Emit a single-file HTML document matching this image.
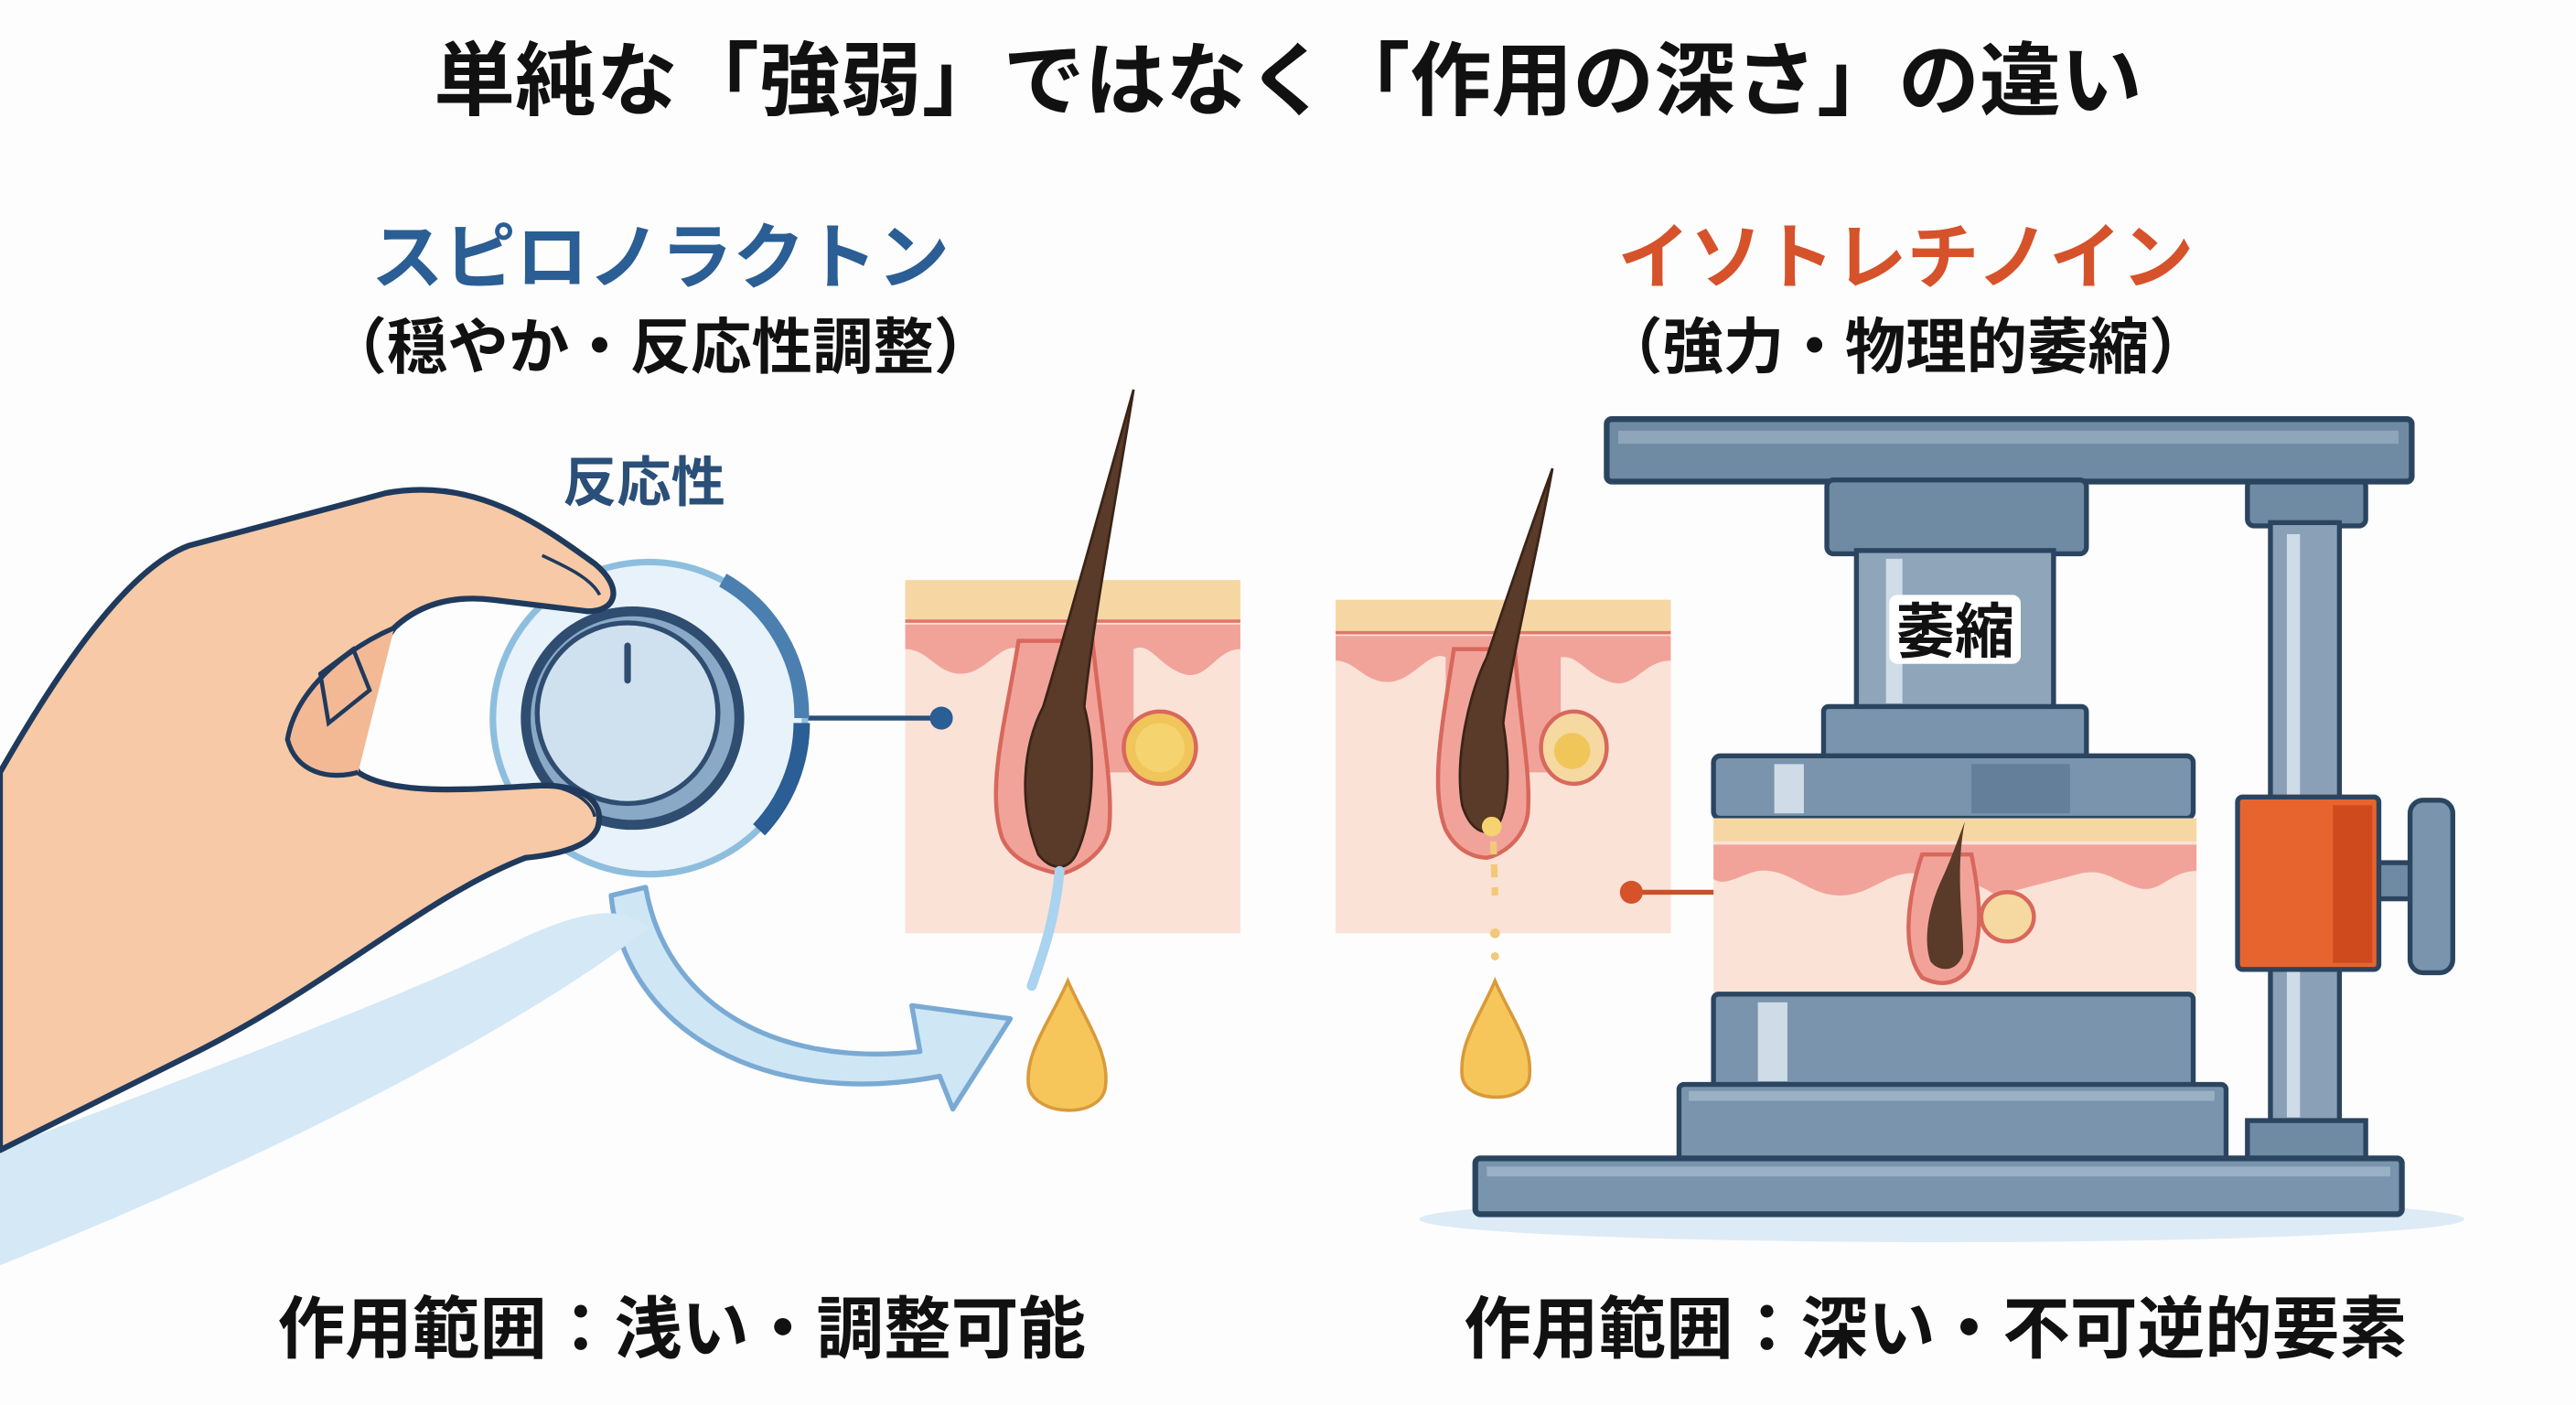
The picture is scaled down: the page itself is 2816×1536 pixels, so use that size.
<!DOCTYPE html>
<html><head><meta charset="utf-8">
<style>
html,body{margin:0;padding:0;background:#fff;}
svg{display:block;}
text{font-family:"Liberation Sans","Noto Sans CJK JP",sans-serif;font-weight:bold;}
</style></head>
<body>
<svg width="2816" height="1536" viewBox="0 0 1568 855" xmlns="http://www.w3.org/2000/svg">
<rect width="1568" height="855" fill="#fdfdfd"/>
<!-- Titles -->
<text x="784" y="66" font-size="49" text-anchor="middle" fill="#111" textLength="1040" lengthAdjust="spacingAndGlyphs">単純な「強弱」ではなく「作用の深さ」の違い</text>
<text x="402" y="172" font-size="44" text-anchor="middle" fill="#2a5e94">スピロノラクトン</text>
<text x="402" y="224" font-size="37" text-anchor="middle" fill="#111">（穏やか・反応性調整）</text>
<text x="1160" y="172" font-size="44" text-anchor="middle" fill="#d6522a">イソトレチノイン</text>
<text x="1160" y="224" font-size="37" text-anchor="middle" fill="#111">（強力・物理的萎縮）</text>
<text x="392" y="305" font-size="33" text-anchor="middle" fill="#2a4f78">反応性</text>
<text x="415" y="823" font-size="41" text-anchor="middle" fill="#111">作用範囲：浅い・調整可能</text>
<text x="1178" y="823" font-size="41" text-anchor="middle" fill="#111">作用範囲：深い・不可逆的要素</text>

<!-- Left skin panel -->
<rect x="551" y="353" width="204" height="215" fill="#fbe2d6"/>
<path d="M551,353 H755 V378 H551Z" fill="#f6d7a4"/>
<path d="M551,380 H755 V395 C740,395 735,415 720,410 C705,405 700,390 690,395 L690,470 L620,470 L620,395 C610,390 600,410 585,410 C570,410 565,395 551,395Z" fill="#f1a39a"/>
<line x1="551" y1="378" x2="755" y2="378" stroke="#e0786a" stroke-width="2"/>
<path d="M620,390 C612,440 600,480 610,510 C618,528 640,530 645,532 C655,530 672,520 675,505 C678,480 670,440 665,390Z" fill="#f1a39a" stroke="#d8685c" stroke-width="2.5"/>
<ellipse cx="706" cy="455" rx="22" ry="22" fill="#f0c55a" stroke="#d8685c" stroke-width="2.5"/>
<circle cx="706" cy="455" r="15" fill="#f5d36e"/>
<path d="M690,237 C680,300 665,380 660,430 C668,460 665,500 655,520 C650,530 640,530 632,520 C620,490 622,455 635,430 C650,380 675,290 690,237Z" fill="#5a3a28" stroke="#3a2418" stroke-width="1.5"/>
<path d="M645,530 C642,560 635,580 628,600" stroke="#a9d3ef" stroke-width="6" fill="none" stroke-linecap="round"/>
<path d="M650,597 C640,620 624,640 626,660 C628,680 672,682 673,660 C675,640 660,620 650,597Z" fill="#f6c65a" stroke="#d99a3a" stroke-width="2"/>

<!-- connector left -->
<line x1="488" y1="437" x2="573" y2="437" stroke="#2a4f78" stroke-width="3"/>
<circle cx="573" cy="437" r="7" fill="#2a5e94"/>

<!-- curved arrow -->
<path d="M393,540 C405,610 470,650 560,640 L555,612 L615,620 L580,675 L572,655 C470,675 380,630 372,545Z" fill="#cfe6f5" stroke="#7aaad4" stroke-width="3" stroke-linejoin="round"/>

<!-- dial -->
<circle cx="395" cy="437" r="95" fill="#e7f2fa" stroke="#8ebede" stroke-width="4"/>
<path d="M440,353 A95,95 0 0 1 488,437" stroke="#4a7fb0" stroke-width="9" fill="none"/>
<path d="M488,440 A95,95 0 0 1 462,505" stroke="#2a5e94" stroke-width="10" fill="none"/>
<circle cx="385" cy="437" r="68" fill="#2e4d70"/>
<circle cx="385" cy="437" r="62" fill="#8aa9c6"/>
<circle cx="382" cy="434" r="55" fill="#cfe1ef" stroke="#2e4d70" stroke-width="3"/>
<line x1="382" y1="393" x2="382" y2="414" stroke="#2e4d70" stroke-width="4" stroke-linecap="round"/>

<!-- blue cuff shadow -->
<path d="M0,700 C100,660 240,610 320,570 C360,552 380,552 395,565 C330,615 200,690 0,770Z" fill="#d4e8f6"/>
<!-- hand -->
<path d="M0,470 C40,400 80,345 115,332 L235,300 C290,290 330,320 362,343 C380,358 375,372 358,372 L300,365 C275,362 255,368 240,382 C220,410 200,440 218,470 C240,485 290,480 330,478 C355,478 368,488 364,503 C360,515 340,520 320,522 C260,545 200,600 120,640 L0,700Z" fill="#f7c9a6" stroke="#1f3a5c" stroke-width="3.5" stroke-linejoin="round"/>
<path d="M240,382 C210,395 180,420 175,450 C180,470 200,475 218,470" fill="#f3b995" stroke="#1f3a5c" stroke-width="3"/>
<path d="M195,410 L215,395 L225,420 L200,440Z" fill="none" stroke="#1f3a5c" stroke-width="2.5"/>
<path d="M323,478 C340,476 360,485 362,497" fill="none" stroke="#1f3a5c" stroke-width="2"/>
<path d="M330,338 C345,345 360,352 365,362" fill="none" stroke="#1f3a5c" stroke-width="2"/>

<!-- Middle skin panel -->
<rect x="813" y="365" width="204" height="203" fill="#fbe2d6"/>
<path d="M813,365 H1017 V385 H813Z" fill="#f6d7a4"/>
<path d="M813,387 H1017 V402 C1000,402 995,420 980,415 C965,410 960,398 950,400 L950,470 L880,470 L880,400 C870,395 860,415 845,415 C830,415 825,402 813,402Z" fill="#f1a39a"/>
<line x1="813" y1="385" x2="1017" y2="385" stroke="#e0786a" stroke-width="2"/>
<path d="M885,395 C878,440 870,480 880,505 C888,520 900,522 905,522 C915,520 928,510 930,495 C932,470 925,440 922,395Z" fill="#f1a39a" stroke="#d8685c" stroke-width="2.5"/>
<ellipse cx="958" cy="455" rx="20" ry="22" fill="#f5d9a0" stroke="#d8685c" stroke-width="2.5"/>
<circle cx="957" cy="457" r="11" fill="#f0c55a"/>
<path d="M945,285 C935,340 920,400 915,440 C920,470 918,495 910,505 C900,510 893,500 890,490 C885,460 895,420 905,400 C915,370 932,320 945,285Z" fill="#5a3a28" stroke="#3a2418" stroke-width="1.5"/>
<circle cx="908" cy="503" r="6" fill="#f5d36e"/>
<line x1="909" y1="512" x2="910" y2="545" stroke="#f0c97a" stroke-width="4" stroke-dasharray="8,6"/>
<circle cx="910" cy="568" r="3" fill="#f0c97a"/>
<circle cx="910" cy="582" r="2.5" fill="#f0c97a"/>
<path d="M910,597 C900,620 888,635 890,655 C892,672 930,672 931,655 C933,635 920,620 910,597Z" fill="#f6c65a" stroke="#d99a3a" stroke-width="2"/>

<!-- connector right -->
<line x1="993" y1="543" x2="1055" y2="543" stroke="#c9502a" stroke-width="3"/>
<circle cx="993" cy="543" r="7" fill="#d6522a"/>

<!-- press -->
<ellipse cx="1182" cy="742" rx="318" ry="14" fill="#dcebf6"/>
<rect x="1368" y="292" width="72" height="28" rx="4" fill="#6f8aa3" stroke="#2b4560" stroke-width="3"/>
<rect x="1382" y="318" width="42" height="370" fill="#8aa0b6" stroke="#2b4560" stroke-width="3"/>
<rect x="1392" y="325" width="8" height="355" fill="#cfdbe6"/>
<rect x="1368" y="682" width="72" height="25" fill="#6f8aa3" stroke="#2b4560" stroke-width="3"/>
<rect x="1447" y="525" width="24" height="22" fill="#6f8aa3" stroke="#2b4560" stroke-width="3"/>
<rect x="1467" y="487" width="26" height="105" rx="8" fill="#7a94ad" stroke="#2b4560" stroke-width="3"/>
<rect x="1362" y="485" width="86" height="105" rx="3" fill="#e8642e" stroke="#2b4560" stroke-width="3"/>
<rect x="1420" y="490" width="24" height="96" fill="#cf4b1e"/>
<rect x="978" y="255" width="490" height="38" rx="3" fill="#6f8aa3" stroke="#2b4560" stroke-width="3.5"/>
<rect x="985" y="262" width="475" height="8" fill="#8ea5ba"/>
<rect x="1112" y="292" width="158" height="45" rx="4" fill="#6f8aa3" stroke="#2b4560" stroke-width="3"/>
<rect x="1130" y="335" width="120" height="97" fill="#8ea5ba" stroke="#2b4560" stroke-width="3"/>
<rect x="1148" y="340" width="10" height="88" fill="#d0dce7"/>
<rect x="1150" y="362" width="80" height="42" rx="5" fill="#fff"/>
<text x="1190" y="397" font-size="36" text-anchor="middle" fill="#111">萎縮</text>
<rect x="1110" y="430" width="160" height="33" rx="3" fill="#7a94ad" stroke="#2b4560" stroke-width="3"/>
<rect x="1043" y="460" width="292" height="38" rx="4" fill="#7a94ad" stroke="#2b4560" stroke-width="3"/>
<rect x="1080" y="465" width="18" height="30" fill="#cfdbe6"/>
<rect x="1200" y="465" width="60" height="30" fill="#647f99"/>
<!-- squeezed skin -->
<rect x="1043" y="498" width="294" height="107" fill="#fbe2d6"/>
<path d="M1043,498 H1337 V512 H1043Z" fill="#f6d7a4"/>
<path d="M1043,514 H1337 V530 C1320,530 1315,545 1300,540 C1285,535 1280,528 1265,532 L1215,545 C1200,535 1185,532 1170,532 C1150,528 1140,545 1120,545 C1100,545 1090,528 1070,530 C1060,532 1050,540 1043,535Z" fill="#f1a39a"/>
<path d="M1170,520 C1160,550 1158,580 1170,595 C1180,600 1190,600 1198,590 C1208,570 1205,545 1200,520Z" fill="#f1a39a" stroke="#d8685c" stroke-width="2.5"/>
<ellipse cx="1222" cy="558" rx="16" ry="15" fill="#f5d9a0" stroke="#d8685c" stroke-width="2.5"/>
<path d="M1196,500 C1190,530 1195,560 1195,580 C1192,592 1180,592 1175,585 C1170,570 1175,550 1182,535 C1188,522 1192,510 1196,500Z" fill="#5a3a28"/>
<rect x="1043" y="605" width="292" height="57" rx="3" fill="#7a94ad" stroke="#2b4560" stroke-width="3"/>
<rect x="1070" y="610" width="18" height="48" fill="#cfdbe6"/>
<rect x="1022" y="660" width="333" height="47" rx="3" fill="#7a94ad" stroke="#2b4560" stroke-width="3"/>
<rect x="1028" y="664" width="320" height="6" fill="#9ab0c4"/>
<rect x="898" y="705" width="564" height="34" rx="3" fill="#7a94ad" stroke="#2b4560" stroke-width="3.5"/>
<rect x="905" y="710" width="550" height="6" fill="#9ab0c4"/>
</svg>
</body></html>
